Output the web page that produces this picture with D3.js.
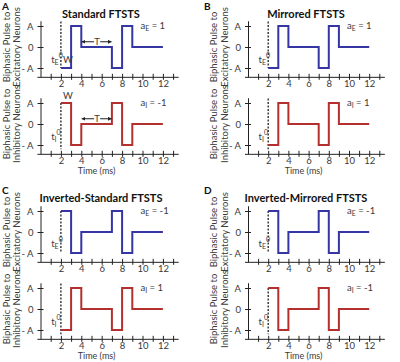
<!DOCTYPE html>
<html>
<head>
<meta charset="utf-8">
<script src="https://cdn.jsdelivr.net/npm/d3@7"></script>
<style>
  body { margin: 0; background: #fff; }
  svg { font-family: Lato, "Open Sans", sans-serif; }
</style>
</head>
<body>
<div class="container"></div>
<script>
// pulse breakpoints (ms) and level of each interval (A = 1, -A = -1)
const segmentTimes = [2, 3, 4, 7, 8, 9, 12];
const excLevels = [
    [-1, 1, 0, -1, 1, 0],
    [-1, 1, 0, -1, 1, 0],
    [1, -1, 0, 1, -1, 0],
    [1, -1, 0, 1, -1, 0]
];
const inhLevels = [
    [1, -1, 0, 1, -1, 0],
    [-1, 1, 0, -1, 1, 0],
    [-1, 1, 0, -1, 1, 0],
    [1, -1, 0, 1, -1, 0]
];
const panelLetters = ['A', 'B', 'C', 'D'];
const panelTitles = ['Standard FTSTS', 'Mirrored FTSTS', 'Inverted-Standard FTSTS', 'Inverted-Mirrored FTSTS'];
const excGains = ['1', '1', '-1', '-1'];
const inhGains = ['-1', '1', '1', '-1'];
const xTickValues = [1, 2, 3, 4, 5, 6, 7, 8, 9, 10, 11, 12, 13];
const xTickLabels = [2, 4, 6, 8, 10, 12];
const yTickValues = [-1, 0, 1];
const yTickLabels = ['- A', '0', 'A'];

const width = 400;
const height = 362;

const colX = [{ origin: 40.5, step: 10.2, title: 101, letter: 2 }, { origin: 248, step: 10.1, title: 306, letter: 204 }];
const rowY = [{ top: 47, bottom: 124, title: 18, letter: 10 }, { top: 232, bottom: 309, title: 202, letter: 194 }];
const unit = 21;

const blue = '#3535a3';
const red = '#b3302f';
const textColor = '#3a3a3a';

const svg = d3.select('.container')
    .append('svg')
    .attr('width', width)
    .attr('height', height);

const defs = svg.append('defs');
defs.append('marker')
    .attr('id', 'arrow')
    .attr('viewBox', '0 0 10 10')
    .attr('refX', 9).attr('refY', 5)
    .attr('markerWidth', 4).attr('markerHeight', 4)
    .attr('orient', 'auto-start-reverse')
    .append('path')
    .attr('d', 'M0,0L10,5L0,10z')
    .attr('fill', '#222');

function addSub(text, main, sub, sup, rest) {
    text.append('tspan').text(main);
    text.append('tspan').attr('font-size', 7).attr('dy', 2).text(sub);
    if (sup) text.append('tspan').attr('font-size', 7).attr('dy', -7).text(sup);
    if (rest) text.append('tspan').attr('dy', sup ? 5 : -2).text(rest);
}

function drawPlot(g, col, zeroY, levels, color, gain, isExc, panelIdx, showTime) {
    const xScale = d3.scaleLinear()
        .domain([-0.35, 13.5])
        .range([col.origin - 0.35 * col.step, col.origin + 13.5 * col.step]);
    const yScale = d3.scaleLinear()
        .domain([-1.42, 1.25])
        .range([zeroY + 1.42 * unit, zeroY - 1.25 * unit]);

    const xAxis = d3.axisBottom(xScale)
        .tickValues(xTickValues)
        .tickSizeInner(3)
        .tickSizeOuter(0)
        .tickPadding(0.5)
        .tickFormat(d => xTickLabels.includes(d) ? d : '');
    const gX = g.append('g')
        .attr('transform', `translate(0, ${yScale(-1.42)})`)
        .call(xAxis);
    gX.selectAll('.tick line').attr('y1', -3);

    const yAxis = d3.axisLeft(yScale)
        .tickValues(yTickValues)
        .tickSizeInner(3)
        .tickSizeOuter(0)
        .tickPadding(4)
        .tickFormat((d, i) => yTickLabels[i]);
    const gY = g.append('g')
        .attr('transform', `translate(${xScale(0)}, 0)`)
        .call(yAxis);
    gY.selectAll('.tick line').attr('x1', 3);

    [gX, gY].forEach(a => {
        a.select('.domain').attr('stroke', '#222');
        a.selectAll('.tick line').attr('stroke', '#222');
        a.selectAll('text').attr('font-size', 9.5).attr('fill', textColor)
            .attr('font-family', 'Lato, "Open Sans", sans-serif');
    });

    // dashed onset marker at t = 2
    const first = levels[0];
    const dashTop = first === 1 ? 1 : 1.22;
    const dashBottom = isExc ? -1 : -1.2;
    g.append('line')
        .attr('x1', xScale(segmentTimes[0])).attr('x2', xScale(segmentTimes[0]))
        .attr('y1', yScale(dashTop)).attr('y2', yScale(dashBottom))
        .attr('stroke', '#222')
        .attr('stroke-width', 1.3)
        .attr('stroke-dasharray', '2,1.5');

    const points = levels.map((v, i) => [segmentTimes[i], v]);
    points.push([segmentTimes[segmentTimes.length - 1], levels[levels.length - 1]]);
    const line = d3.line()
        .x(d => xScale(d[0]))
        .y(d => yScale(d[1]))
        .curve(d3.curveStepAfter);
    g.append('path')
        .attr('d', line(points))
        .attr('fill', 'none')
        .attr('stroke', color)
        .attr('stroke-width', 2);

    // gain label
    const gainText = g.append('text')
        .attr('x', xScale(9.8))
        .attr('y', yScale(1) + 3)
        .attr('font-size', 9.5)
        .attr('fill', textColor);
    addSub(gainText, 'a', isExc ? 'E' : 'I', null, ' = ' + gain);

    // onset label
    const onset = g.append('text')
        .attr('x', xScale(1.05))
        .attr('y', first === -1 || !isExc ? yScale(-0.78) : yScale(-0.72))
        .attr('font-size', 9.5)
        .attr('fill', textColor);
    addSub(onset, 't', isExc ? 'E' : 'I', '0');

    if (panelIdx === 0) {
        // width and period annotations
        g.append('text')
            .attr('x', xScale(2.2))
            .attr('y', isExc ? yScale(-0.75) : yScale(1.2))
            .attr('font-size', 9.5)
            .attr('fill', textColor)
            .text('W');
        const ty = yScale(0.25);
        g.append('line')
            .attr('x1', xScale(5.25)).attr('x2', xScale(4.05))
            .attr('y1', ty).attr('y2', ty)
            .attr('stroke', '#222').attr('stroke-width', 1)
            .attr('marker-end', 'url(#arrow)');
        g.append('line')
            .attr('x1', xScale(5.85)).attr('x2', xScale(6.95))
            .attr('y1', ty).attr('y2', ty)
            .attr('stroke', '#222').attr('stroke-width', 1)
            .attr('marker-end', 'url(#arrow)');
        g.append('text')
            .attr('x', xScale(5.55))
            .attr('y', ty + 3.5)
            .attr('text-anchor', 'middle')
            .attr('font-size', 9.5)
            .attr('fill', textColor)
            .text('T');
    }

    // y-axis title
    const yTitle = g.append('text')
        .attr('transform', `translate(${col.origin - 31}, ${zeroY}) rotate(-90)`)
        .attr('text-anchor', 'middle')
        .attr('font-size', 9.5)
        .attr('fill', textColor);
    yTitle.append('tspan').attr('x', 0).attr('dy', 0).text('Biphasic Pulse to');
    yTitle.append('tspan').attr('x', 0).attr('dy', 10.5).text(isExc ? 'Excitatory Neurons' : 'Inhibitory Neurons');

    if (showTime) {
        g.append('text')
            .attr('x', xScale(5.5))
            .attr('y', yScale(-1.42) + 20)
            .attr('text-anchor', 'middle')
            .attr('font-size', 9)
            .attr('fill', textColor)
            .text('Time (ms)');
    }
}

panelLetters.forEach((letter, i) => {
    const col = colX[i % 2];
    const row = rowY[Math.floor(i / 2)];
    const g = svg.append('g').attr('class', 'panel' + letter);

    g.append('text')
        .attr('x', col.letter)
        .attr('y', row.letter)
        .attr('font-size', 10)
        .attr('font-weight', 'bold')
        .attr('fill', '#111')
        .text(letter);
    g.append('text')
        .attr('x', col.title)
        .attr('y', row.title)
        .attr('text-anchor', 'middle')
        .attr('font-size', 11)
        .attr('font-weight', 'bold')
        .attr('fill', '#111')
        .text(panelTitles[i]);

    drawPlot(g, col, row.top, excLevels[i], blue, excGains[i], true, i, false);
    drawPlot(g, col, row.bottom, inhLevels[i], red, inhGains[i], false, i, true);
});
</script>
</body>
</html>
